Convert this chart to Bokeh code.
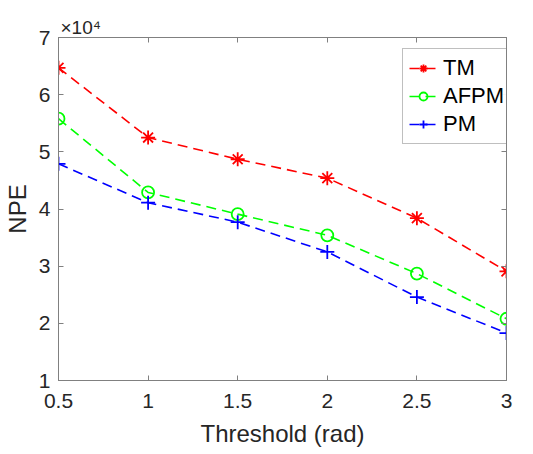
from bokeh.plotting import figure
from bokeh.models import (FixedTicker, CustomJSTickFormatter, LinearAxis,
                          Range1d, Legend, Title)
from bokeh.embed import file_html
from bokeh.resources import INLINE

# Data
threshold = [0.5, 1.0, 1.5, 2.0, 2.5, 3.0]
tm_npe = [64700, 52500, 48700, 45400, 38400, 29100]
afpm_npe = [55800, 42900, 39100, 35400, 28700, 20800]
pm_npe = [47900, 41100, 37700, 32500, 24600, 18300]
x_ticks = [0.5, 1.0, 1.5, 2.0, 2.5, 3.0]
y_ticks = [10000, 20000, 30000, 40000, 50000, 60000, 70000]

FONT = "Liberation Sans"
TXT = "#262626"
AX = "#808080"

p = figure(width=517, height=454, output_backend="svg", toolbar_location=None,
           x_range=Range1d(0.5, 3.0), y_range=Range1d(10000, 70000),
           min_border_left=51, min_border_right=11, min_border_top=37,
           min_border_bottom=74)
p.grid.visible = False
p.outline_line_color = AX
p.outline_line_width = 1
p.background_fill_color = "white"
p.border_fill_color = "white"

xfmt = CustomJSTickFormatter(code="return tick.toString()")
yfmt = CustomJSTickFormatter(code="return (Math.round(tick/1000)/10).toString()")
efmt = CustomJSTickFormatter(code="return ''")

def style_axis(ax, ticks, fmt, labels=True):
    ax.ticker = FixedTicker(ticks=ticks)
    ax.formatter = fmt
    ax.axis_line_color = AX
    ax.major_tick_line_color = AX
    ax.major_tick_in = 5
    ax.major_tick_out = 0
    ax.minor_tick_line_color = None
    ax.major_label_text_font = FONT
    ax.major_label_text_color = TXT
    ax.major_label_text_font_size = "21px" if labels else "1px"
    ax.axis_label_text_font = FONT
    ax.axis_label_text_color = TXT
    ax.axis_label_text_font_size = "24px"
    ax.axis_label_text_font_style = "normal"

style_axis(p.xaxis[0], x_ticks, xfmt)
style_axis(p.yaxis[0], y_ticks, yfmt)
p.xaxis[0].axis_label = "Threshold (rad)"
p.yaxis[0].axis_label = "NPE"
p.xaxis[0].major_label_standoff = 13
p.yaxis[0].major_label_standoff = 8
p.xaxis[0].axis_label_standoff = 9
p.yaxis[0].axis_label_standoff = 5

top_ax = LinearAxis()
style_axis(top_ax, x_ticks, efmt, labels=False)
top_ax.major_label_standoff = 0
right_ax = LinearAxis()
style_axis(right_ax, y_ticks, efmt, labels=False)
right_ax.major_label_standoff = 0
p.add_layout(top_ax, "above")
p.add_layout(right_ax, "right")

dash = "10 6"
series = [
    ("TM", tm_npe, "#ff0000", "asterisk", 14),
    ("AFPM", afpm_npe, "#00ff00", "circle", 12),
    ("PM", pm_npe, "#0000ff", "cross", 14),
]
items = []
for name, vals, col, mk, sz in series:
    l = p.line(threshold, vals, line_color=col, line_width=1.6, line_dash=dash)
    s = p.scatter(threshold, vals, marker=mk, size=sz, line_color=col,
                  fill_color=None, line_width=1.8)
    items.append((name, [l, s]))

legend = Legend(items=items, location=(344, 236))
legend.label_text_font = FONT
legend.label_text_font_size = "22px"
legend.label_text_color = "#000000"
legend.glyph_width = 28
legend.glyph_height = 20
legend.label_height = 20
legend.label_standoff = 6
legend.padding = 6
legend.spacing = 2
legend.margin = 0
legend.border_line_color = AX
legend.border_line_width = 1
legend.background_fill_color = "white"
p.add_layout(legend)

p.title = Title(text="×10⁴", align="left", offset=2, standoff=0,
                text_font=FONT, text_font_size="19px", text_color=TXT,
                text_font_style="normal")

open("out.html", "w").write(file_html(p, INLINE))
